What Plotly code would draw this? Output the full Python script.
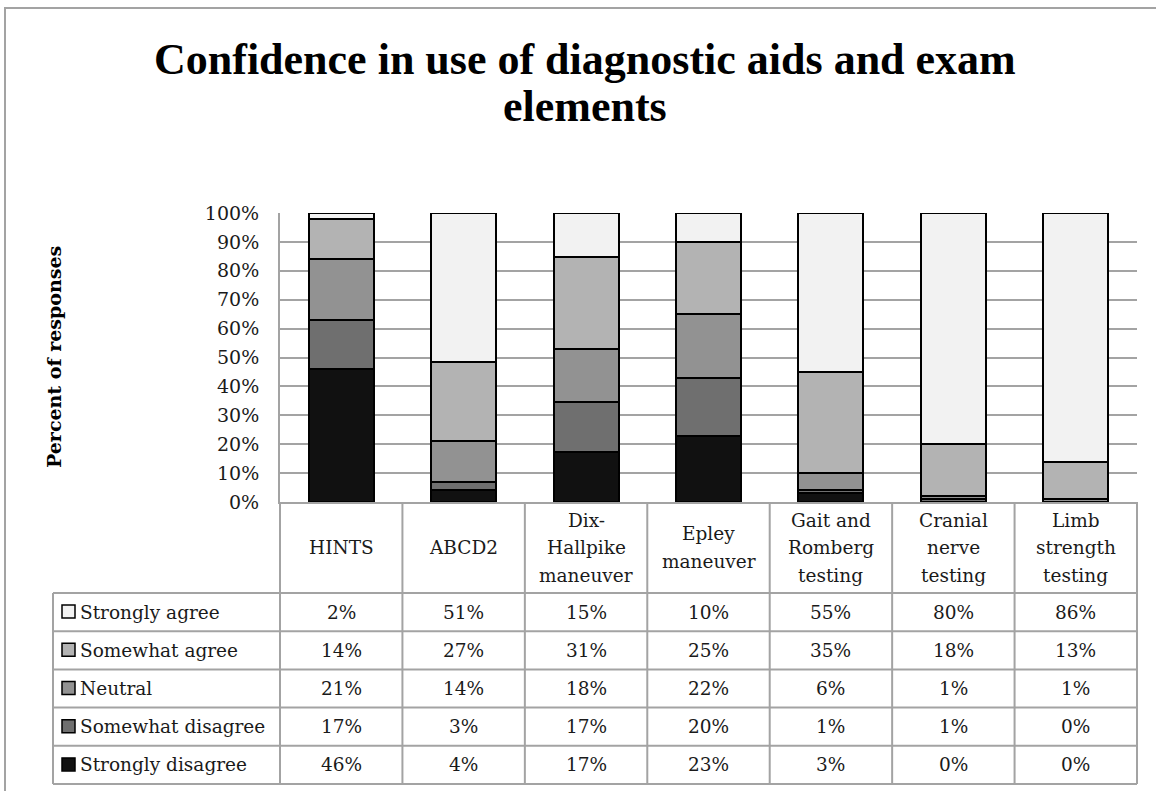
import plotly.graph_objects as go

# ---------------- data ----------------
categories = ["HINTS", "ABCD2", "Dix-Hallpike maneuver", "Epley maneuver",
              "Gait and Romberg testing", "Cranial nerve testing", "Limb strength testing"]
header_labels = ["HINTS", "ABCD2", "Dix-<br>Hallpike<br>maneuver", "Epley<br>maneuver",
                 "Gait and<br>Romberg<br>testing", "Cranial<br>nerve<br>testing",
                 "Limb<br>strength<br>testing"]
series_names = ["Strongly agree", "Somewhat agree", "Neutral",
                "Somewhat disagree", "Strongly disagree"]
strongly_agree = [2, 51, 15, 10, 55, 80, 86]
somewhat_agree = [14, 27, 31, 25, 35, 18, 13]
neutral = [21, 14, 18, 22, 6, 1, 1]
somewhat_disagree = [17, 3, 17, 20, 1, 1, 0]
strongly_disagree = [46, 4, 17, 23, 3, 0, 0]
series_colors = ["#f2f2f2", "#b3b3b3", "#929292", "#6f6f6f", "#111111"]
y_tick_values = [0, 10, 20, 30, 40, 50, 60, 70, 80, 90, 100]
y_tick_labels = [f"{v}%" for v in y_tick_values]
title_lines = ["Confidence in use of diagnostic aids and exam", "elements"]
y_title = "Percent of responses"

series_values = [strongly_agree, somewhat_agree, neutral, somewhat_disagree, strongly_disagree]

# ---------------- geometry ----------------
W, H = 1156, 791
L, R, T, B = 280, 1137, 213, 502
GRAY = "#a3a3a3"
TXT = "#1a1a1a"
TITLEFONT = "Liberation Serif"
FONT = "DejaVu Serif"
FS = 18.5


def px(xp):
    return (xp - L) / (R - L)


def py(yp):
    return (B - yp) / (B - T)


ncat = len(categories)
cw = (R - L) / ncat
table_left = 53
header_bottom = 593
row_h = 38.2
row_tops = [header_bottom + i * row_h for i in range(len(series_names) + 1)]

fig = go.Figure()

# stacked bars, bottom-up
for name, vals, col in reversed(list(zip(series_names, series_values, series_colors))):
    fig.add_trace(go.Bar(
        x=categories, y=vals, name=name,
        marker=dict(color=col, line=dict(color="#000000", width=2)),
        hoverinfo="x+y+name",
    ))

shapes = []
# outer frame
shapes.append(dict(type="rect", xref="paper", yref="paper",
                   x0=px(5), x1=px(1175), y0=py(8), y1=py(810),
                   line=dict(color=GRAY, width=2), fillcolor="rgba(0,0,0,0)", layer="below"))
# table horizontal lines
for yt in row_tops:
    shapes.append(dict(type="line", xref="paper", yref="paper",
                       x0=px(table_left), x1=px(R), y0=py(yt), y1=py(yt),
                       line=dict(color=GRAY, width=2)))
# table vertical lines
shapes.append(dict(type="line", xref="paper", yref="paper",
                   x0=px(table_left), x1=px(table_left), y0=py(row_tops[0]), y1=py(row_tops[-1]),
                   line=dict(color=GRAY, width=2)))
for k in range(ncat + 1):
    xx = L + k * cw
    shapes.append(dict(type="line", xref="paper", yref="paper",
                       x0=px(xx), x1=px(xx), y0=py(B), y1=py(row_tops[-1]),
                       line=dict(color=GRAY, width=2)))

annotations = []
# legend keys + row labels + values
for r, (name, vals, col) in enumerate(zip(series_names, series_values, series_colors)):
    yc = (row_tops[r] + row_tops[r + 1]) / 2
    shapes.append(dict(type="rect", xref="paper", yref="paper",
                       x0=px(62), x1=px(75), y0=py(yc - 7), y1=py(yc + 6),
                       fillcolor=col, line=dict(color="#000000", width=1.5)))
    annotations.append(dict(xref="paper", yref="paper", x=px(78), y=py(yc),
                            xanchor="left", yanchor="middle", showarrow=False,
                            text=name, font=dict(family=FONT, size=FS, color=TXT)))
    for i, v in enumerate(vals):
        annotations.append(dict(xref="paper", yref="paper", x=(i + 0.5) / ncat, y=py(yc),
                                xanchor="center", yanchor="middle", showarrow=False,
                                text=f"{v}%", font=dict(family=FONT, size=FS, color=TXT)))
# header labels, one annotation per line for exact spacing
line_gap = 27.5
hc = (B + header_bottom) / 2
for i, lab in enumerate(header_labels):
    parts = lab.split("<br>")
    n = len(parts)
    for j, part in enumerate(parts):
        yl = hc + (j - (n - 1) / 2) * line_gap
        annotations.append(dict(xref="paper", yref="paper", x=(i + 0.5) / ncat, y=py(yl),
                                xanchor="center", yanchor="middle", showarrow=False,
                                text=part, font=dict(family=FONT, size=FS, color=TXT)))
# title
annotations.append(dict(xref="paper", yref="paper", x=px(585), y=py(59),
                        xanchor="center", yanchor="middle", showarrow=False,
                        text=f"<b>{title_lines[0]}</b>",
                        font=dict(family=TITLEFONT, size=44, color="#000000")))
annotations.append(dict(xref="paper", yref="paper", x=px(585), y=py(106),
                        xanchor="center", yanchor="middle", showarrow=False,
                        text=f"<b>{title_lines[1]}</b>",
                        font=dict(family=TITLEFONT, size=44, color="#000000")))
# y axis title
annotations.append(dict(xref="paper", yref="paper", x=px(54), y=py(357),
                        xanchor="center", yanchor="middle", showarrow=False, textangle=-90,
                        text=f"<b>{y_title}</b>",
                        font=dict(family=FONT, size=19, color="#000000")))

fig.update_layout(
    width=W, height=H,
    margin=dict(l=L, r=W - R, t=T, b=H - B, pad=0),
    paper_bgcolor="white", plot_bgcolor="white",
    barmode="stack", barnorm="percent", bargap=0.47,
    showlegend=False,
    shapes=shapes, annotations=annotations,
    xaxis=dict(showticklabels=False, showgrid=False, showline=True, linecolor=GRAY,
               linewidth=2, ticks="", zeroline=False, fixedrange=True),
    yaxis=dict(range=[0, 100], tickvals=y_tick_values, ticktext=y_tick_labels,
               showgrid=True, gridcolor=GRAY, gridwidth=2, showline=True, linecolor=GRAY,
               linewidth=2, ticks="", zeroline=False, ticklabelstandoff=15,
               tickfont=dict(family=FONT, size=19, color=TXT), fixedrange=True),
)

fig.write_html("out.html", config={"displayModeBar": False},
               post_script="document.body.style.margin='0';")
